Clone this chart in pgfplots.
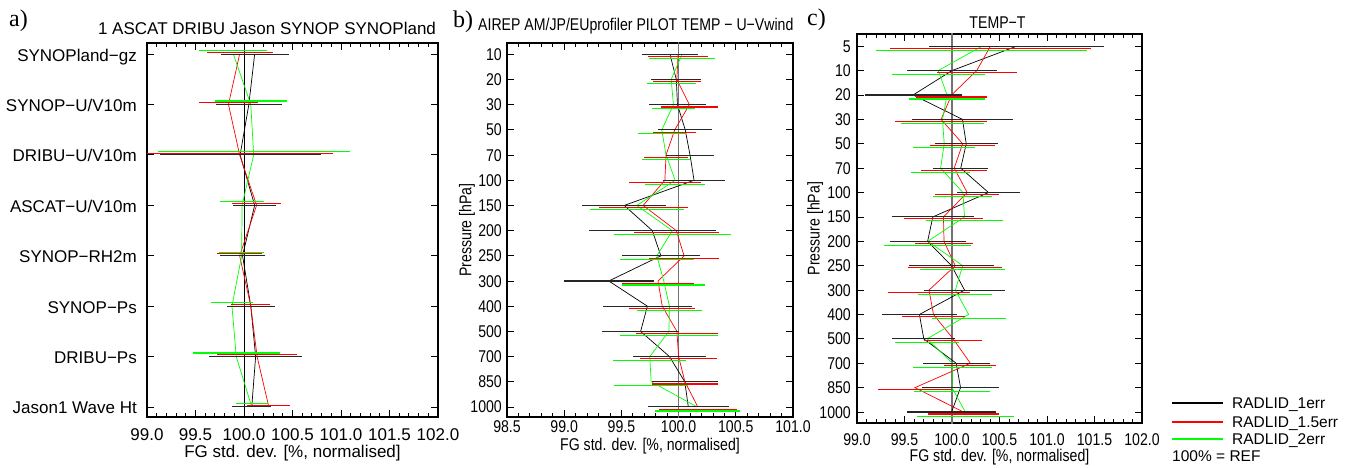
\documentclass[border=0pt]{standalone}
\usepackage{pgfplots}
\pgfplotsset{compat=1.18}
\usepackage{pgfplotstable}
\usepackage{fontspec}
\setmainfont{Liberation Sans}
\newfontfamily\condfont[FakeStretch=0.83]{Liberation Sans}
\newfontfamily\seriffont{Liberation Serif}

% panel a: i = category index (0 = top)
\pgfplotstableread{
i  k       ke     r       re     g       ge
0  100.110 0.350  99.955  0.340  99.890  0.350
1  100.050 0.340  99.840  0.300  100.070 0.370
2  99.960  0.830  99.955  0.960  100.100 0.990
3  100.110 0.225  100.130 0.255  99.980  0.227
4  99.985  0.235  99.955  0.235  99.976  0.235
5  100.070 0.250  100.070 0.200  99.876  0.213
6  100.120 0.480  100.135 0.410  99.920  0.447
7  100.080 0.200  100.256 0.223  100.080 0.165
}\tabA

% panel b: levels 10 ... 1000 hPa
\pgfplotstableread{
i  k       ke     r       re     g       ge
0  99.925  0.245  99.995  0.260  100.030 0.290
1  99.980  0.220  99.985  0.210  99.935  0.215
2  99.990  0.246  100.094 0.252  99.955  0.190
3  100.058 0.238  99.966  0.190  99.853  0.207
4  100.100 0.207  99.890  0.190  99.890  0.210
5  100.135 0.274  99.880  0.318  99.970  0.260
6  99.525  0.369  99.690  0.390  99.635  0.410
7  99.770  0.555  99.980  0.370  99.945  0.510
8  99.845  0.343  100.048 0.305  99.810  0.324
9  99.390  0.393  99.820  0.318  99.870  0.364
10 99.727  0.390  99.857  0.290  99.920  0.283
11 99.668  0.334  99.985  0.360  99.915  0.430
12 99.920  0.320  100.000 0.335  99.748  0.320
13 100.054 0.290  100.055 0.285  99.760  0.325
14 100.085 0.355  100.168 0.343  100.162 0.372
}\tabB

% panel c: levels 5 ... 1000 hPa
\pgfplotstableread{
i  k       ke     r       re     g       ge
0  100.680 0.920  100.405 1.060  100.315 1.110
1  100.000 0.470  100.260 0.420  99.855  0.490
2  99.590  0.510  99.995  0.370  99.948  0.400
3  100.110 0.535  99.885  0.480  99.900  0.434
4  100.150 0.330  100.112 0.345  99.918  0.327
5  100.092 0.290  100.023 0.347  99.880  0.310
6  100.384 0.336  100.160 0.334  100.115 0.310
7  99.798  0.430  99.910  0.420  100.132 0.406
8  99.743  0.400  99.916  0.303  99.745  0.458
9  99.995  0.450  100.034 0.495  100.113 0.450
10 100.132 0.427  99.758  0.434  100.035 0.390
11 99.657  0.394  99.805  0.333  100.175 0.390
12 99.703  0.333  100.012 0.303  99.738  0.338
13 100.044 0.353  100.193 0.275  100.004 0.417
14 100.090 0.408  99.610  0.390  100.000 0.403
15 99.995  0.464  100.120 0.375  100.140 0.513
}\tabC

\pgfplotsset{
  base/.style={
    scale only axis, anchor=south west,
    axis line style={line width=1.4pt},
    every tick/.append style={black, line width=0.8pt},
    major tick length=7pt, minor tick length=4pt,
    tick align=inside,
    y dir=reverse,
    minor x tick num=4,
    xticklabel style={anchor=base, inner sep=0pt},
    yticklabel style={anchor=base east, inner sep=0pt},
    xlabel style={at={(axis description cs:0.5,0)}, anchor=base, inner sep=0pt},
    ylabel style={anchor=center, inner sep=0pt},
  },
  kl/.style={black, line width=0.7pt, mark=none},
  rl/.style={red, line width=0.7pt, mark=none},
  gl/.style={green, line width=0.7pt, mark=none},
  eb/.style={forget plot, draw=none, mark=none,
    error bars/.cd, x dir=both, x explicit, error mark=none,
    error bar style={draw=#1, line width=1.1pt}},
}
\newcommand{\fa}{\fontsize{17}{20}\selectfont}
\newcommand{\fb}{\condfont\fontsize{17}{20}\selectfont}

\begin{document}
\begin{tikzpicture}
\useasboundingbox (0,0) rectangle (1349pt,468pt);

% ---------------- panel a ----------------
\begin{axis}[base,
  at={(147pt,51pt)}, width=291pt, height=374pt,
  xmin=99, xmax=102, ymin=-0.22, ymax=7.2,
  xtick={99,99.5,100,100.5,101,101.5,102},
  xticklabels={99.0,99.5,100.0,100.5,101.0,101.5,102.0},
  ytick={0,1,2,3,4,5,6,7},
  yticklabels={SYNOPland−gz,SYNOP−U/V10m,DRIBU−U/V10m,ASCAT−U/V10m,SYNOP−RH2m,SYNOP−Ps,DRIBU−Ps,Jason1 Wave Ht},
  tick label style={font=\fa},
  label style={font=\fa},
  xticklabel style={yshift=-23pt},
  yticklabel style={xshift=-10pt, yshift=-7pt},
  xlabel={FG std. dev. [\%, normalised]},
  xlabel style={yshift=-40pt},
]
\addplot[black, line width=0.8pt, forget plot] coordinates {(100,-1) (100,9)};
\addplot[kl] table[x=k, y=i]{\tabA};
\addplot[rl] table[x=r, y=i]{\tabA};
\addplot[gl] table[x=g, y=i]{\tabA};
\addplot[eb=black!85] table[x=k, y=i, x error=ke]{\tabA};
\addplot[eb=red] table[x=r, y expr=\thisrow{i}-0.036, x error=re]{\tabA};
\addplot[eb=green] table[x=g, y expr=\thisrow{i}-0.07, x error=ge]{\tabA};
\end{axis}

% ---------------- panel b ----------------
\begin{axis}[base,
  at={(507pt,51pt)}, width=286pt, height=374pt,
  xmin=98.5, xmax=101, ymin=-0.45, ymax=14.4,
  xtick={98.5,99,99.5,100,100.5,101},
  xticklabels={98.5,99.0,99.5,100.0,100.5,101.0},
  ytick={0,1,2,3,4,5,6,7,8,9,10,11,12,13,14},
  yticklabels={10,20,30,50,70,100,150,200,250,300,400,500,700,850,1000},
  tick label style={font=\fb},
  label style={font=\fb},
  xticklabel style={yshift=-15.6pt},
  yticklabel style={xshift=-5pt, yshift=-6pt},
  xlabel={FG std. dev. [\%, normalised]},
  xlabel style={yshift=-33pt},
  ylabel={Pressure [hPa]},
  ylabel style={at={(axis description cs:-0.14,0.5)}},
]
\addplot[black!55, line width=1.5pt, forget plot] coordinates {(100,-1) (100,20)};
\addplot[kl] table[x=k, y=i]{\tabB};
\addplot[rl] table[x=r, y=i]{\tabB};
\addplot[gl] table[x=g, y=i]{\tabB};
\addplot[eb=black!85] table[x=k, y=i, x error=ke]{\tabB};
\addplot[eb=red] table[x=r, y expr=\thisrow{i}+0.09, x error=re]{\tabB};
\addplot[eb=green] table[x=g, y expr=\thisrow{i}+0.16, x error=ge]{\tabB};
\end{axis}

% ---------------- panel c ----------------
\begin{axis}[base,
  at={(857pt,45pt)}, width=285pt, height=389pt,
  xmin=99, xmax=102, ymin=-0.5, ymax=15.45,
  xtick={99,99.5,100,100.5,101,101.5,102},
  xticklabels={99.0,99.5,100.0,100.5,101.0,101.5,102.0},
  ytick={0,1,2,3,4,5,6,7,8,9,10,11,12,13,14,15},
  yticklabels={5,10,20,30,50,70,100,150,200,250,300,400,500,700,850,1000},
  tick label style={font=\fb},
  label style={font=\fb},
  xticklabel style={yshift=-22.5pt},
  yticklabel style={xshift=-6pt, yshift=-6pt},
  xlabel={FG std. dev. [\%, normalised]},
  xlabel style={yshift=-38.5pt},
  ylabel={Pressure [hPa]},
  ylabel style={at={(axis description cs:-0.147,0.5)}},
]
\addplot[black!55, line width=1.5pt, forget plot] coordinates {(100,-1) (100,20)};
\addplot[kl] table[x=k, y=i]{\tabC};
\addplot[rl] table[x=r, y=i]{\tabC};
\addplot[gl] table[x=g, y=i]{\tabC};
\addplot[eb=black!85] table[x=k, y=i, x error=ke]{\tabC};
\addplot[eb=red] table[x=r, y expr=\thisrow{i}+0.082, x error=re]{\tabC};
\addplot[eb=green] table[x=g, y expr=\thisrow{i}+0.165, x error=ge]{\tabC};
\end{axis}

% titles and panel letters
\node[anchor=base, inner sep=0pt, font=\fa] at (267pt,433pt) {1 ASCAT DRIBU Jason SYNOP SYNOPland};
\node[anchor=base west, inner sep=0pt, font=\fb] at (478pt,437.3pt) {AIREP AM/JP/EUprofiler PILOT TEMP − U−Vwind};
\node[anchor=base, inner sep=0pt, font=\fb] at (997.5pt,439.7pt) {TEMP−T};
\node[anchor=base west, inner sep=0pt, font=\seriffont\fontsize{24}{26}\selectfont] at (9pt,441pt) {a)};
\node[anchor=base west, inner sep=0pt, font=\seriffont\fontsize{24}{26}\selectfont] at (453pt,440.7pt) {b)};
\node[anchor=base west, inner sep=0pt, font=\seriffont\fontsize{24}{26}\selectfont] at (807pt,442pt) {c)};

% legend
\draw[black, line width=1.2pt] (1172pt,65pt) -- (1223pt,65pt);
\draw[red, line width=1.2pt] (1172pt,46pt) -- (1223pt,46pt);
\draw[green, line width=1.2pt] (1172pt,29pt) -- (1223pt,29pt);
\node[anchor=base west, inner sep=0pt, font=\fontsize{15.5}{18}\selectfont] at (1232pt,59.5pt) {RADLID\_1err};
\node[anchor=base west, inner sep=0pt, font=\fontsize{15.5}{18}\selectfont] at (1232pt,40.5pt) {RADLID\_1.5err};
\node[anchor=base west, inner sep=0pt, font=\fontsize{15.5}{18}\selectfont] at (1232pt,23.5pt) {RADLID\_2err};
\node[anchor=base west, inner sep=0pt, font=\fontsize{15.5}{18}\selectfont] at (1172pt,6.5pt) {100\% = REF};
\end{tikzpicture}
\end{document}
